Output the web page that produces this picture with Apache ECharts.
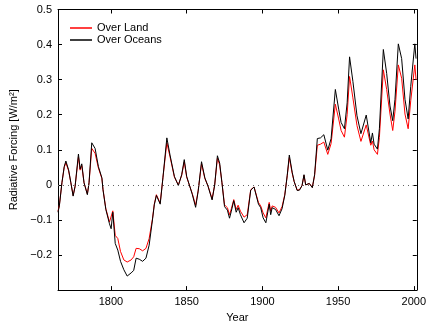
<!DOCTYPE html>
<html>
<head>
<meta charset="utf-8">
<script src="https://cdn.jsdelivr.net/npm/echarts@6/dist/echarts.min.js"></script>
<style>
  html, body { margin: 0; padding: 0; background: #fff; }
  #chart { width: 429px; height: 328px; }
</style>
</head>
<body>
<div id="chart"></div>
<script>
// Radiative forcing [W/m^2], [year, value]
const overLand = [
  [1765,-0.075],[1765.9,-0.058],[1767.6,0.006],[1769.1,0.05],[1770.2,0.063],[1772,0.04],[1773.5,0.006],
  [1775,-0.03],[1776.3,-0.004],[1778.5,0.08],[1779.6,0.042],[1780.7,0.055],[1782.2,0.006],[1784.4,-0.026],
  [1785.5,0.006],[1787.3,0.104],[1789.5,0.09],[1791.7,0.048],[1794,0.018],[1794.7,-0.012],[1796.6,-0.068],
  [1799,-0.106],[1800.1,-0.11],[1801.2,-0.074],[1802.8,-0.144],[1804.5,-0.153],[1806.3,-0.19],[1808.5,-0.214],
  [1810.7,-0.22],[1813.3,-0.214],[1815,-0.205],[1816.6,-0.181],[1818.7,-0.182],[1820.9,-0.188],[1823.1,-0.181],
  [1825.2,-0.153],[1827.4,-0.097],[1828.6,-0.055],[1830,-0.028],[1832.5,-0.052],[1834.3,0.02],[1836.9,0.12],
  [1839,0.08],[1841.9,0.022],[1844.5,0],[1846.7,0.027],[1848.4,0.066],[1850,0.022],[1851,0.019],[1853.7,-0.025],
  [1855.9,-0.058],[1857.6,-0.016],[1859.8,0.06],[1862,0.018],[1864.1,-0.003],[1866.8,-0.04],[1868.5,0],
  [1870.3,0.076],[1871.8,0.057],[1873.3,0.006],[1875,-0.057],[1876.9,-0.065],[1878.3,-0.085],[1879.5,-0.068],
  [1881.1,-0.042],[1882.7,-0.07],[1884,-0.058],[1885.5,-0.075],[1887.9,-0.092],[1890,-0.085],[1892.3,-0.014],
  [1894.5,-0.006],[1895.5,-0.01],[1897.4,-0.05],[1898.9,-0.06],[1900.5,-0.08],[1902.3,-0.094],[1904.5,-0.05],
  [1905.5,-0.075],[1906.5,-0.06],[1908.7,-0.064],[1911,-0.08],[1913,-0.062],[1914.8,-0.028],[1916.4,0.025],
  [1917.8,0.078],[1919.7,0.033],[1921,0.009],[1923,-0.015],[1924.5,-0.014],[1926.2,-0.002],[1927.5,0.027],
  [1928.6,0],[1931,0.004],[1933,-0.007],[1934.5,0.027],[1936.3,0.113],[1938.4,0.116],[1940.6,0.122],
  [1943.2,0.087],[1945.4,0.118],[1948.2,0.23],[1950.4,0.188],[1952,0.155],[1954.2,0.136],[1956,0.2],
  [1957.6,0.309],[1959.8,0.248],[1960.5,0.245],[1962.5,0.169],[1965.1,0.124],[1968.6,0.171],[1971.6,0.113],
  [1972.7,0.125],[1973.8,0.1],[1974.8,0.1],[1976,0.087],[1977.3,0.135],[1979.9,0.328],[1982.1,0.272],
  [1984.3,0.202],[1986.1,0.155],[1987.6,0.21],[1989.8,0.342],[1992,0.304],[1994.2,0.202],[1996.3,0.16],
  [1998,0.24],[2000.7,0.342],[2001.5,0.3]
];
const overOceans = [
  [1765,-0.078],[1765.9,-0.06],[1767.6,0.006],[1769.1,0.052],[1770.2,0.068],[1772,0.043],[1773.5,0.006],
  [1775,-0.032],[1776.3,-0.004],[1778.5,0.088],[1779.6,0.045],[1780.7,0.06],[1782.2,0.006],[1784.4,-0.028],
  [1785.5,0.006],[1787.3,0.12],[1789.5,0.104],[1791.7,0.052],[1794,0.02],[1794.7,-0.013],[1796.6,-0.07],
  [1799,-0.111],[1800.1,-0.125],[1801.2,-0.078],[1802.8,-0.167],[1804.5,-0.186],[1806.3,-0.218],[1808.5,-0.242],
  [1810.7,-0.26],[1813.3,-0.251],[1815,-0.244],[1816.6,-0.209],[1818.7,-0.212],[1820.9,-0.218],[1823.1,-0.209],
  [1825.2,-0.172],[1827.4,-0.1],[1828.6,-0.057],[1830,-0.03],[1832.5,-0.055],[1834.3,0.02],[1836.9,0.134],
  [1839,0.085],[1841.9,0.024],[1844.5,-0.002],[1846.7,0.029],[1848.4,0.072],[1850,0.024],[1851,0.02],[1853.7,-0.027],
  [1855.9,-0.064],[1857.6,-0.018],[1859.8,0.066],[1862,0.02],[1864.1,-0.004],[1866.8,-0.043],[1868.5,0],
  [1870.3,0.083],[1871.8,0.062],[1873.3,0.006],[1875,-0.062],[1876.9,-0.072],[1878.3,-0.095],[1879.5,-0.075],
  [1881.1,-0.045],[1882.7,-0.078],[1884,-0.065],[1885.5,-0.085],[1887.9,-0.108],[1890,-0.095],[1892.3,-0.015],
  [1894.5,-0.006],[1895.5,-0.01],[1897.4,-0.055],[1898.9,-0.065],[1900.5,-0.094],[1902.3,-0.108],[1904.5,-0.055],
  [1905.5,-0.085],[1906.5,-0.065],[1908.7,-0.07],[1911,-0.088],[1913,-0.068],[1914.8,-0.03],[1916.4,0.027],
  [1917.8,0.085],[1919.7,0.036],[1921,0.01],[1923,-0.016],[1924.5,-0.015],[1926.2,-0.002],[1927.5,0.029],
  [1928.6,0],[1931,0.004],[1933,-0.008],[1934.5,0.029],[1936.3,0.132],[1938.4,0.134],[1940.6,0.143],
  [1943.2,0.099],[1945.4,0.132],[1948.2,0.272],[1950.4,0.216],[1952,0.178],[1954.2,0.16],[1956,0.234],
  [1957.6,0.365],[1959.8,0.295],[1960.5,0.29],[1962.5,0.197],[1965.1,0.146],[1968.6,0.199],[1971.6,0.12],
  [1972.7,0.148],[1973.8,0.116],[1974.8,0.118],[1976,0.102],[1977.3,0.16],[1979.9,0.386],[1982.1,0.318],
  [1984.3,0.225],[1986.1,0.183],[1987.6,0.244],[1989.8,0.402],[1992,0.36],[1994.2,0.244],[1996.3,0.188],
  [1998,0.281],[2000.7,0.402],[2001.5,0.36]
];
const yearTicks = [1800, 1850, 1900, 1950, 2000];
const seriesNames = ['Over Land', 'Over Oceans'];

const FONT = '"Liberation Sans", Arial, sans-serif';
const X_MIN = 1765, X_MAX = 2002;
const Y_MIN = -0.3, Y_MAX = 0.5, Y_STEP = 0.1;

function fmtY(v) {
  const r = Math.round(v * 10) / 10;
  if (Math.abs(r - Y_MIN) < 1e-9) return '';
  if (r === 0) return '0';
  return (r < 0 ? '\u2212' : '') + Math.abs(r).toFixed(1);
}

const axisLine = { show: true, onZero: false, lineStyle: { color: '#000', width: 1 } };
const tickStyle = { show: true, inside: true, length: 4, lineStyle: { color: '#000', width: 1 } };

const chart = echarts.init(document.getElementById('chart'), null, { renderer: 'canvas' });
chart.setOption({
  animation: false,
  backgroundColor: '#fff',
  grid: { left: 58, right: 9, top: 9.5, bottom: 33, containLabel: false },
  legend: {
    orient: 'vertical',
    left: 65, top: 17,
    itemWidth: 22, itemHeight: 1.5, itemGap: 0,
    icon: 'rect',
    data: seriesNames,
    textStyle: { fontFamily: FONT, fontSize: 11, color: '#000', lineHeight: 12 }
  },
  xAxis: [
    {
      type: 'value', min: X_MIN, max: X_MAX, position: 'bottom',
      name: 'Year', nameLocation: 'middle', nameGap: 19,
      nameTextStyle: { fontFamily: FONT, fontSize: 11, color: '#000' },
      axisLine: axisLine,
      axisTick: Object.assign({ customValues: yearTicks }, tickStyle),
      axisLabel: {
        customValues: yearTicks, formatter: v => String(v),
        fontFamily: FONT, fontSize: 11, color: '#000', margin: 6
      },
      splitLine: { show: false }
    },
    {
      type: 'value', min: X_MIN, max: X_MAX, position: 'top',
      axisLine: axisLine,
      axisTick: Object.assign({ customValues: yearTicks }, tickStyle),
      axisLabel: { show: false },
      splitLine: { show: false }
    }
  ],
  yAxis: [
    {
      type: 'value', min: Y_MIN, max: Y_MAX, interval: Y_STEP, position: 'left',
      name: 'Radiative Forcing [W/m\u00B2]', nameLocation: 'middle', nameGap: 28, nameRotate: 90,
      nameTextStyle: { fontFamily: FONT, fontSize: 11, color: '#000' },
      axisLine: axisLine,
      axisTick: tickStyle,
      axisLabel: { formatter: fmtY, fontFamily: FONT, fontSize: 11, color: '#000', margin: 6 },
      splitLine: { show: false }
    },
    {
      type: 'value', min: Y_MIN, max: Y_MAX, interval: Y_STEP, position: 'right',
      axisLine: axisLine,
      axisTick: tickStyle,
      axisLabel: { show: false },
      splitLine: { show: false }
    }
  ],
  series: [
    {
      name: seriesNames[0], type: 'line', data: overLand,
      xAxisIndex: 0, yAxisIndex: 0,
      symbol: 'none', smooth: false,
      lineStyle: { color: '#ff0000', width: 1 }, itemStyle: { color: '#ff0000' },
      markLine: {
        silent: true, symbol: 'none', label: { show: false },
        lineStyle: { color: '#666', type: [1, 4], width: 1 },
        data: [{ yAxis: 0 }]
      }
    },
    {
      name: seriesNames[1], type: 'line', data: overOceans,
      xAxisIndex: 0, yAxisIndex: 0,
      symbol: 'none', smooth: false,
      lineStyle: { color: '#000000', width: 1 }, itemStyle: { color: '#000000' }
    }
  ]
});
</script>
</body>
</html>
